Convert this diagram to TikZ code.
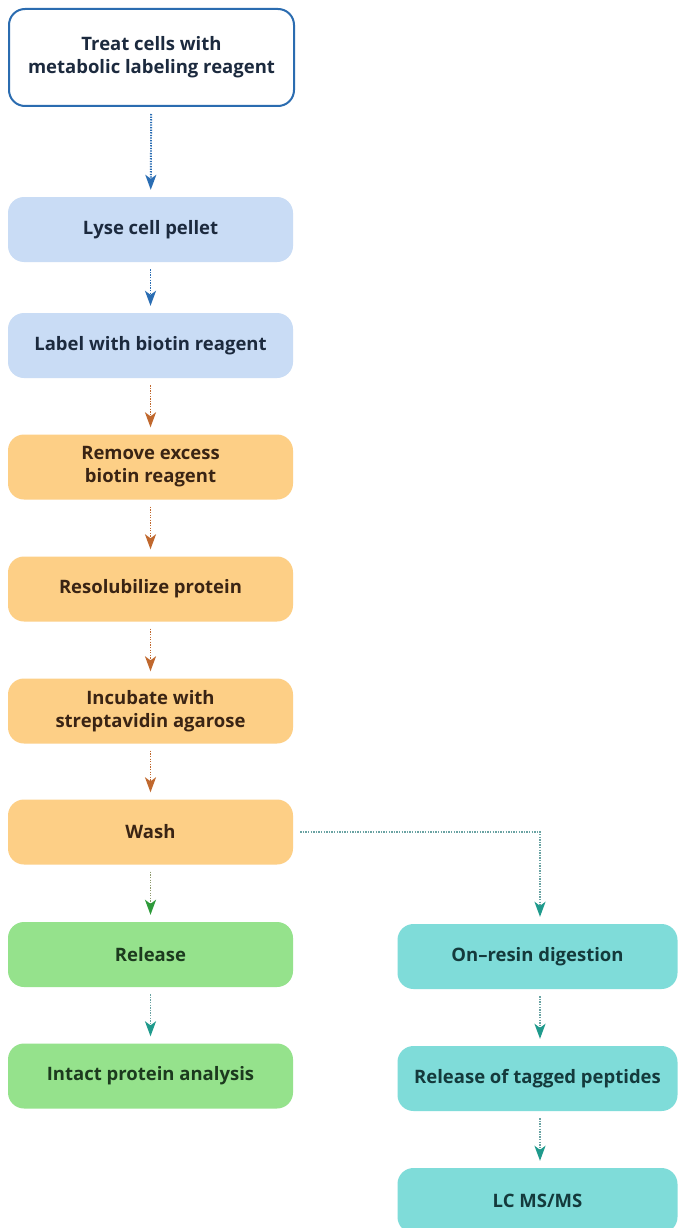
\documentclass[tikz,border=0pt]{standalone}
\usepackage{fontspec}
\setmainfont{Open Sans}
\usetikzlibrary{arrows.meta}
\definecolor{topborder}{HTML}{2B6CB0}
\definecolor{bluefill}{HTML}{C9DCF5}
\definecolor{orangefill}{HTML}{FDCF86}
\definecolor{greenfill}{HTML}{95E28C}
\definecolor{tealfill}{HTML}{7FDCD9}
\definecolor{bluearr}{HTML}{2A6DB3}
\definecolor{orangearr}{HTML}{C0682E}
\definecolor{greenarr}{HTML}{2E9A3A}
\definecolor{greenline}{HTML}{8E9A6E}
\definecolor{tealarr}{HTML}{1F9A8C}
\definecolor{tealline}{HTML}{6AA3A3}
\definecolor{bluetext}{HTML}{1C2A3E}
\definecolor{orangetext}{HTML}{3A2414}
\definecolor{greentext}{HTML}{1C3A1E}
\definecolor{tealtext}{HTML}{143A3C}
\tikzset{
  box/.style={rectangle, rounded corners=16pt, minimum width=285pt, minimum height=65pt,
    align=center, font=\fontsize{18.5}{23}\selectfont\bfseries, inner sep=0pt},
  topbox/.style={box, draw=topborder, line width=2pt, fill=white, minimum width=285pt, minimum height=97pt, text=bluetext},
  bluebox/.style={box, fill=bluefill, text=bluetext},
  orangebox/.style={box, fill=orangefill, text=orangetext},
  greenbox/.style={box, fill=greenfill, text=greentext},
  tealbox/.style={box, fill=tealfill, text=tealtext, minimum width=280pt},
  arr/.style={line width=1.9pt, dash pattern=on 1.3pt off 1.3pt, shorten <=7pt, shorten >=7pt},
  bluearrow/.style={arr, draw=bluearr, -{Stealth[length=15pt,width=11pt,inset=4pt,color=bluearr]}},
  orangearrow/.style={arr, draw=orangearr, -{Stealth[length=15pt,width=11pt,inset=4pt,color=orangearr]}},
  greenarrow/.style={arr, draw=greenline, -{Stealth[length=15pt,width=11pt,inset=4pt,color=greenarr]}},
  tealarrow/.style={arr, draw=tealline, -{Stealth[length=15pt,width=11pt,inset=4pt,color=tealarr]}},
}
\begin{document}
\begin{tikzpicture}[x=1pt,y=-1pt]
\useasboundingbox (0,0) rectangle (677,1228);
\fill[white] (0,0) rectangle (677,1228);
\node[topbox] (treat) at (151.5,57.5) {Treat cells with\\metabolic labeling reagent};
\node[bluebox] (lyse) at (150.5,229.5) {Lyse cell pellet};
\node[bluebox] (label) at (150.5,345.5) {Label with biotin reagent};
\node[orangebox] (remove) at (150.5,467) {Remove excess\\biotin reagent};
\node[orangebox] (resol) at (150.5,589) {Resolubilize protein};
\node[orangebox] (incub) at (150.5,711) {Incubate with\\streptavidin agarose};
\node[orangebox] (wash) at (150.5,832) {Wash};
\node[greenbox] (release) at (150.5,954.5) {Release};
\node[greenbox] (intact) at (150.5,1076) {Intact protein analysis};
\node[tealbox] (onresin) at (537.5,956.5) {On–resin digestion};
\node[tealbox] (tagged) at (537.5,1078.5) {Release of tagged peptides};
\node[tealbox] (lcms) at (537.5,1200.5) {LC MS/MS};
\coordinate (rx) at (540,0);
\draw[bluearrow] (treat) -- (lyse);
\draw[bluearrow] (lyse) -- (label);
\draw[orangearrow] (label) -- (remove);
\draw[orangearrow] (remove) -- (resol);
\draw[orangearrow] (resol) -- (incub);
\draw[orangearrow] (incub) -- (wash);
\draw[greenarrow] (wash) -- (release);
\draw[tealarrow] (release) -- (intact);
\draw[tealarrow] (onresin.south -| rx) -- (tagged.north -| rx);
\draw[tealarrow] (tagged.south -| rx) -- (lcms.north -| rx);
\draw[tealarrow] (wash.east) -| (onresin.north -| rx);
\end{tikzpicture}
\end{document}
